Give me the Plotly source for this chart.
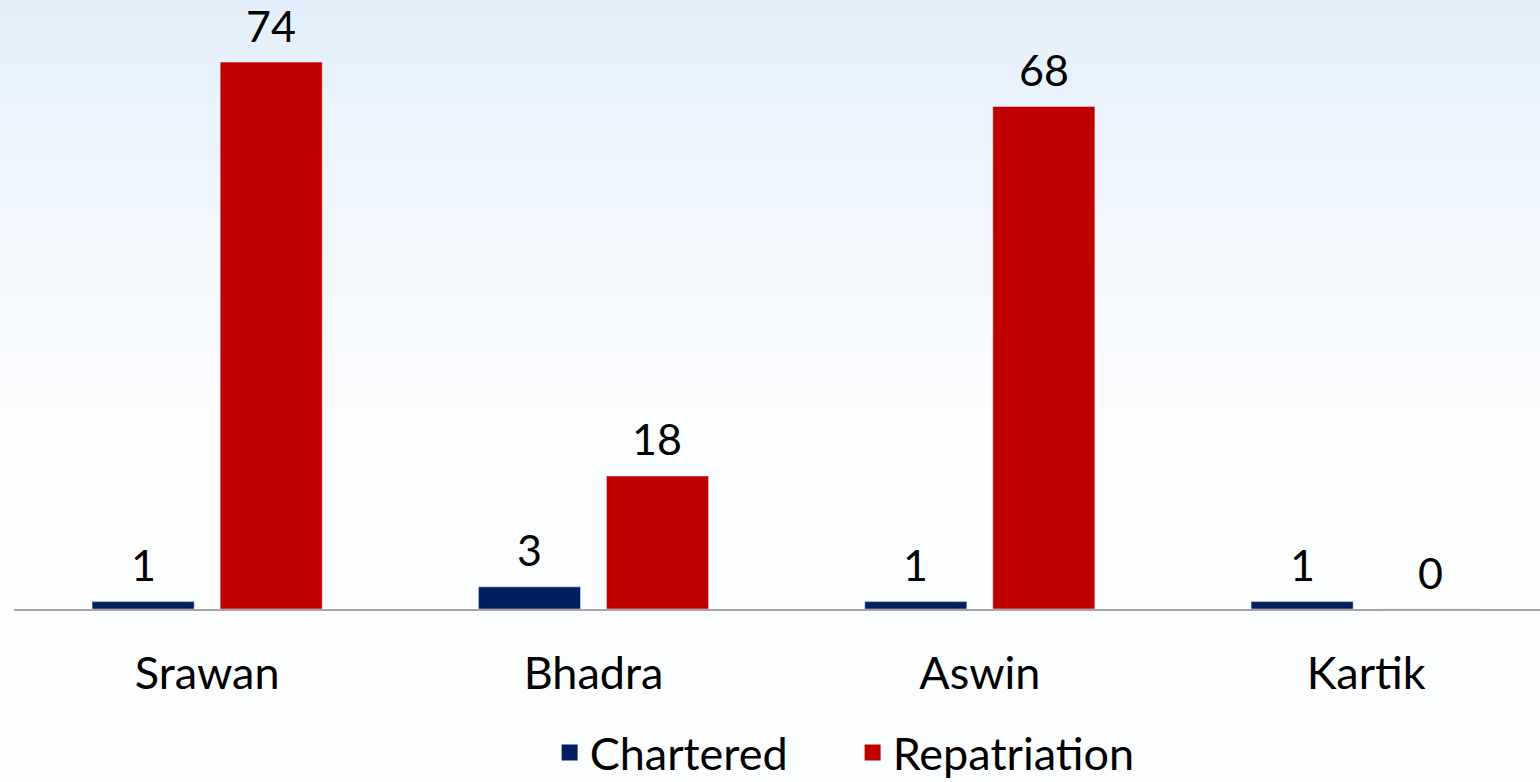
import plotly.graph_objects as go

months = ["Srawan", "Bhadra", "Aswin", "Kartik"]
chartered = [1, 3, 1, 1]
repatriation = [74, 18, 68, 0]

FONT = "Lato"
FS = 45
NAVY = "#002060"
RED = "#C00000"

fig = go.Figure()
fig.add_trace(go.Bar(name="Chartered", x=months, y=chartered, marker_color=NAVY,
                     legendgroup="c", showlegend=False))
fig.add_trace(go.Bar(name="Repatriation", x=months, y=repatriation, marker_color=RED,
                     legendgroup="r", showlegend=False))
# legend entries with larger square swatches
fig.add_trace(go.Scatter(name="Chartered", x=[None], y=[None], mode="markers", legendgroup="c",
                         marker=dict(symbol="square", size=24, color=NAVY)))
fig.add_trace(go.Scatter(name="Repatriation", x=[None], y=[None], mode="markers", legendgroup="r",
                         marker=dict(symbol="square", size=24, color=RED)))

# value labels above each bar (offset to the bar's slot in the group)
annotations = []
for vals, shift in ((chartered, -64), (repatriation, 64)):
    for m, v in zip(months, vals):
        annotations.append(dict(x=m, y=v, xref="x", yref="y", text=str(v), showarrow=False,
                                xshift=shift, yshift=37, yanchor="middle",
                                font=dict(size=43, family=FONT, color="#000000")))

# soft blue gradient background (top fading to white): nested opaque rects,
# lightest/largest first, darker/smaller ones on top
top = (225, 238, 251)
bottom = (252, 253, 254)
shapes = []
n = 40
span = 430
for k in range(n, 0, -1):
    p = span * k / n
    t = (k / n) ** 0.8
    col = tuple(round(top[i] + (bottom[i] - top[i]) * t) for i in range(3))
    shapes.append(dict(type="rect", xref="paper", yref="paper", x0=-0.02, x1=1.02,
                       y0=1 - p / 609, y1=1.05, line_width=0,
                       fillcolor="rgb(%d,%d,%d)" % col, layer="below"))

fig.update_layout(
    width=1540, height=782,
    margin=dict(l=14, r=0, t=0, b=173, autoexpand=False),
    paper_bgcolor="rgb(252,253,254)", plot_bgcolor="rgba(0,0,0,0)",
    barmode="group", bargap=0.337, bargroupgap=0.203,
    font=dict(family=FONT, size=FS, color="#000000"),
    shapes=shapes, annotations=annotations,
    showlegend=True,
    legend=dict(orientation="h", x=0.351, xanchor="left", y=-0.236, yanchor="middle",
                font=dict(size=FS, family=FONT), bgcolor="rgba(0,0,0,0)",
                entrywidth=258, entrywidthmode="pixels", itemclick=False),
    xaxis=dict(range=[-0.5, 3.45], showline=True, linecolor="#a6a6a6", linewidth=1.5,
               ticks="", ticklabelstandoff=24, tickfont=dict(size=FS, family=FONT),
               showgrid=False, zeroline=False, fixedrange=True, automargin=False),
    yaxis=dict(range=[0, 82.4], visible=False, showgrid=False, zeroline=False,
               fixedrange=True, automargin=False),
)

fig.write_html("out.html", config={"displayModeBar": False},
               post_script="document.body.style.margin='0';document.body.style.overflow='hidden';")
